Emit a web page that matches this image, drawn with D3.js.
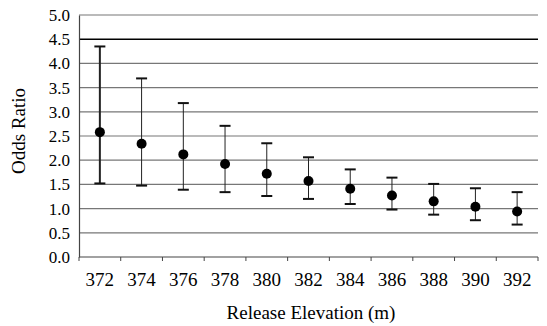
<body style="margin:0"></body>

<script src='https://d3js.org/d3.v7.min.js'></script>
<script>

    const width = 547;
    const height = 326;
    const margin = { top: 15, right: 9, bottom: 69, left: 79 };
    const serif = "'Liberation Serif', 'DejaVu Serif', serif";

    // data
    const elevations = ["372", "374", "376", "378", "380", "382", "384", "386", "388", "390", "392"];
    const oddsRatio = [2.58, 2.34, 2.12, 1.92, 1.72, 1.57, 1.41, 1.27, 1.15, 1.04, 0.94];
    const upper = [4.35, 3.69, 3.18, 2.71, 2.35, 2.06, 1.81, 1.64, 1.51, 1.42, 1.34];
    const lower = [1.52, 1.475, 1.39, 1.34, 1.26, 1.20, 1.095, 0.98, 0.875, 0.76, 0.67];
    const yTicks = [0, 0.5, 1, 1.5, 2, 2.5, 3, 3.5, 4, 4.5, 5];

    const data = elevations.map(function (e, i) {
        return { e: e, v: oddsRatio[i], hi: upper[i], lo: lower[i] };
    });

    const x = d3.scaleBand()
        .domain(elevations)
        .range([margin.left, width - margin.right]);
    const y = d3.scaleLinear()
        .domain([0, 5])
        .range([height - margin.bottom, margin.top]);

    const svg = d3.select("body")
        .append("svg")
        .attr("width", width)
        .attr("height", height);

    // gridlines
    svg.append("g")
        .selectAll("line")
        .data(yTicks.filter(function (t) { return t > 0; }))
        .enter()
        .append("line")
        .attr("x1", margin.left)
        .attr("x2", width - margin.right)
        .attr("y1", function (d) { return y(d); })
        .attr("y2", function (d) { return y(d); })
        .attr("stroke", function (d) { return d === 4.5 ? "#000" : "#777"; })
        .attr("stroke-width", function (d) { return d === 4.5 ? 1.5 : 1.2; });

    // y axis
    const yAxis = svg.append("g")
        .attr("transform", "translate(" + margin.left + ",0)")
        .call(d3.axisLeft(y).tickValues(yTicks).tickFormat(d3.format(".1f")).tickSize(0).tickPadding(9));
    yAxis.select(".domain").attr("stroke", "#444").attr("stroke-width", 1.2);
    yAxis.selectAll("text")
        .style("font-family", serif)
        .style("font-size", "17px")
        .attr("fill", "#000");

    // x axis, ticks on the band edges
    const xAxis = svg.append("g")
        .attr("transform", "translate(0," + y(0) + ")");
    xAxis.append("line")
        .attr("x1", margin.left)
        .attr("x2", width - margin.right)
        .attr("stroke", "#444")
        .attr("stroke-width", 1.2);
    xAxis.selectAll(".tick")
        .data(elevations.concat(["end"]))
        .enter()
        .append("line")
        .attr("x1", function (d, i) { return margin.left + i * x.bandwidth(); })
        .attr("x2", function (d, i) { return margin.left + i * x.bandwidth(); })
        .attr("y2", 4)
        .attr("stroke", "#444");
    xAxis.selectAll("text")
        .data(elevations)
        .enter()
        .append("text")
        .attr("x", function (d) { return x(d) + x.bandwidth() / 2; })
        .attr("y", 29)
        .style("text-anchor", "middle")
        .style("font-family", serif)
        .style("font-size", "19px")
        .text(function (d) { return d; });

    // error bars
    const g = svg.selectAll(".bar")
        .data(data)
        .enter()
        .append("g")
        .attr("transform", function (d) {
            return "translate(" + (x(d.e) + x.bandwidth() / 2) + ",0)";
        });
    g.append("line")
        .attr("y1", function (d) { return y(d.hi); })
        .attr("y2", function (d) { return y(d.lo); })
        .attr("stroke", "#222")
        .attr("stroke-width", function (d, i) { return i === 0 ? 2 : 1; });
    g.append("line")
        .attr("x1", -5.5).attr("x2", 5.5)
        .attr("y1", function (d) { return y(d.hi); })
        .attr("y2", function (d) { return y(d.hi); })
        .attr("stroke", "#111")
        .attr("stroke-width", 2);
    g.append("line")
        .attr("x1", -5.5).attr("x2", 5.5)
        .attr("y1", function (d) { return y(d.lo); })
        .attr("y2", function (d) { return y(d.lo); })
        .attr("stroke", "#111")
        .attr("stroke-width", 2);
    g.append("circle")
        .attr("cy", function (d) { return y(d.v); })
        .attr("r", 5)
        .attr("fill", "#000");

    // axis titles
    svg.append("text")
        .attr("x", 311)
        .attr("y", 319)
        .style("text-anchor", "middle")
        .style("font-family", serif)
        .style("font-size", "19px")
        .text("Release Elevation (m)");
    svg.append("text")
        .attr("transform", "translate(25,131) rotate(-90)")
        .style("text-anchor", "middle")
        .style("font-family", serif)
        .style("font-size", "19px")
        .text("Odds Ratio");
</script>
